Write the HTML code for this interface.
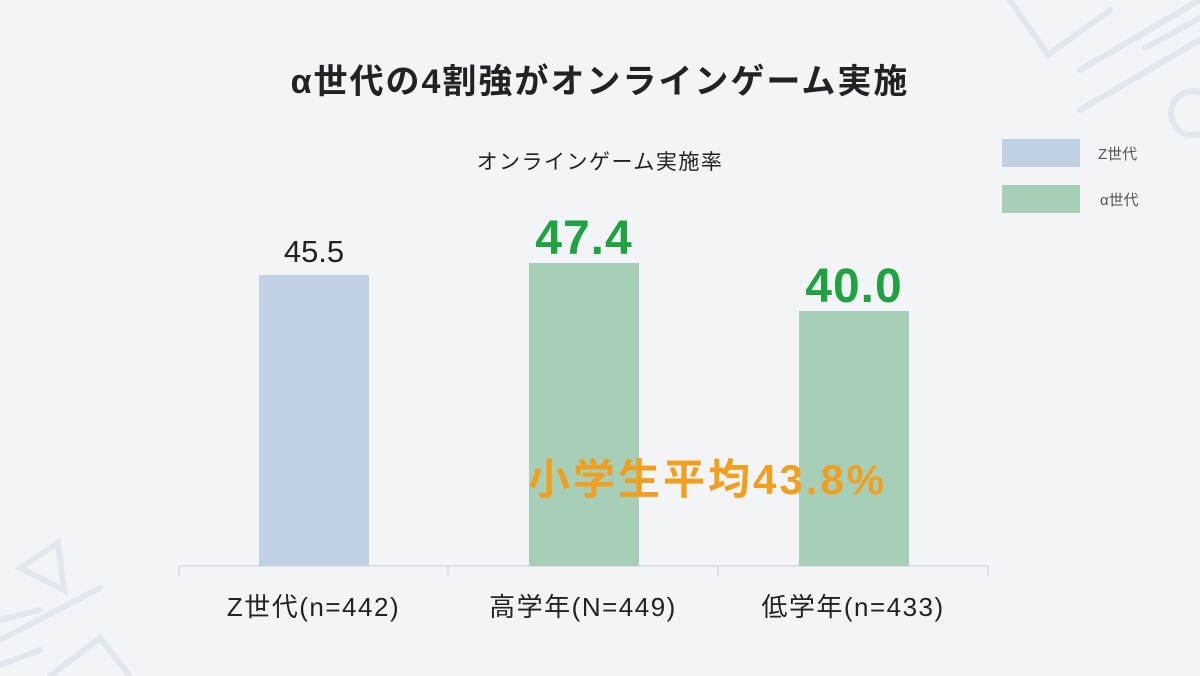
<!DOCTYPE html>
<html><head><meta charset="utf-8"><style>
body{margin:0;width:1200px;height:676px;background:#f2f4f7;font-family:"Liberation Sans","Noto Sans CJK JP",sans-serif;overflow:hidden;position:relative}
.t{position:absolute;white-space:nowrap}
</style></head><body>
<svg width="1200" height="676" style="position:absolute;left:0;top:0">
<g stroke="#e2e7ee" stroke-width="6" fill="none" stroke-linecap="round">
<path d="M1010 0 L1048 55 L1110 10"/>
<line x1="1080" y1="70" x2="1200" y2="0"/>
<line x1="1145" y1="48" x2="1200" y2="18"/>
<line x1="1080" y1="110" x2="1200" y2="40"/>
<circle cx="1193" cy="113" r="22"/>
<path d="M58 543 L20 568 L64 590 Z"/>
<line x1="0" y1="640" x2="100" y2="588"/>
<line x1="0" y1="620" x2="40" y2="610"/>
<line x1="0" y1="665" x2="40" y2="650"/>
<path d="M50 676 L100 638 L130 676"/>
</g>
<line x1="179" y1="566" x2="988" y2="566" stroke="#d6d9dd" stroke-width="1.5"/>
<g stroke="#d6d9dd" stroke-width="1.5"><line x1="179" y1="566" x2="179" y2="576"/><line x1="448" y1="566" x2="448" y2="576"/><line x1="718" y1="566" x2="718" y2="576"/><line x1="988" y1="566" x2="988" y2="576"/></g>
<rect x="259" y="275" width="110" height="291" fill="#bfd1e3"/>
<rect x="529" y="263" width="110" height="303" fill="#a7cfb8"/>
<rect x="799" y="311" width="110" height="255" fill="#a7cfb8"/>
<rect x="1002" y="139" width="78" height="28" fill="#bfd1e3"/>
<rect x="1002" y="185" width="78" height="28" fill="#a7cfb8"/>
</svg>
<div class="t" style="left:0;width:1200px;text-align:center;top:54px;font-size:34px;font-weight:bold;color:#222;letter-spacing:2px">α世代の4割強がオンラインゲーム実施</div>
<div class="t" style="left:0;width:1200px;text-align:center;top:146px;font-size:21px;color:#222;letter-spacing:1.5px">オンラインゲーム実施率</div>
<div class="t" style="left:1098px;top:143px;font-size:15px;color:#555">Z世代</div>
<div class="t" style="left:1100px;top:189px;font-size:15px;color:#555">α世代</div>
<div class="t" style="left:259px;width:110px;text-align:center;top:234px;font-size:31px;color:#222">45.5</div>
<div class="t" style="left:509px;width:150px;text-align:center;top:211px;font-size:48px;font-weight:bold;color:#1fa23f;letter-spacing:1px">47.4</div>
<div class="t" style="left:779px;width:150px;text-align:center;top:259px;font-size:48px;font-weight:bold;color:#1fa23f;letter-spacing:1px">40.0</div>
<div class="t" style="left:528px;top:446px;font-size:42px;font-weight:bold;color:#f0a021;letter-spacing:3px">小学生平均43.8%</div>
<div class="t" style="left:179px;width:269px;text-align:center;top:587px;font-size:26px;color:#222;letter-spacing:1.5px">Z世代(n=442)</div>
<div class="t" style="left:448px;width:270px;text-align:center;top:587px;font-size:26px;color:#222;letter-spacing:1.5px">高学年(N=449)</div>
<div class="t" style="left:718px;width:270px;text-align:center;top:587px;font-size:26px;color:#222;letter-spacing:1.5px">低学年(n=433)</div>
</body></html>
